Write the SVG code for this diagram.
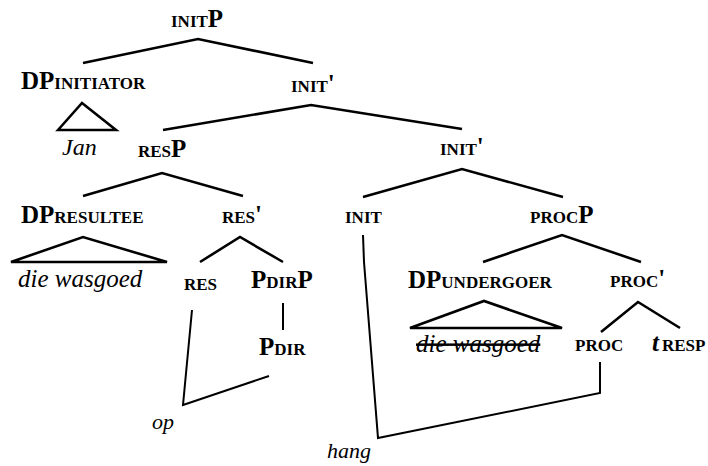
<svg xmlns="http://www.w3.org/2000/svg" width="708" height="466" viewBox="0 0 708 466">
<style>
text{font-family:"Liberation Serif","Times New Roman",serif;fill:#000}
.lab{font-weight:bold;font-size:17px}
.big{font-size:25px}
.it{font-style:italic;font-weight:normal}
.e{fill:none;stroke:#000;stroke-width:2.6;stroke-linejoin:miter}
.m{fill:none;stroke:#000;stroke-width:2}
</style>
<rect width="708" height="466" fill="#fff"/>
<g id="connectors">
<polyline class="e" points="83,63 198,39 313,63"/>
<polyline class="e" points="163,130 311,105 462,129"/>
<polyline class="e" points="83,196 162,173 243,196"/>
<polyline class="e" points="363,197 462,169 563,197"/>
<polyline class="e" points="200,262 240,237 283,262"/>
<polyline class="e" points="483,262 562,235 641,262"/>
<polyline class="e" points="601,332 638,302 680,328"/>
<polygon class="e" points="58,130 82,103 116,130"/>
<polygon class="e" points="11,262 83,237 167,262"/>
<polygon class="e" points="410,328 484,301 562,328"/>
<line class="m" x1="283" y1="303" x2="283" y2="330"/>
<polyline class="m" points="192,310 183,405 269,376"/>
<polyline class="m" points="363,235 364,262 378,438 600,393 600,362"/>
</g>
<g id="initP"><text class="lab" x="171" y="27">INIT<tspan class="big">P</tspan></text></g>
<g id="dp-initiator"><text class="lab" x="21" y="89"><tspan class="big" font-size="26">DP</tspan>INITIATOR</text></g>
<g id="jan"><text class="it" x="62" y="155" font-size="24">Jan</text></g>
<g id="init-bar1"><text class="lab" x="291" y="92">INIT<tspan class="big">'</tspan></text></g>
<g id="resP"><text class="lab" x="138" y="157">RES<tspan class="big">P</tspan></text></g>
<g id="init-bar2"><text class="lab" x="440" y="155">INIT<tspan class="big">'</tspan></text></g>
<g id="dp-resultee"><text class="lab" x="21" y="223"><tspan class="big" font-size="26">DP</tspan>RESULTEE</text></g>
<g id="res-bar"><text class="lab" x="222" y="223">RES<tspan class="big">'</tspan></text></g>
<g id="init-head"><text class="lab" x="345" y="223">INIT</text></g>
<g id="procP"><text class="lab" x="530" y="223">PROC<tspan class="big">P</tspan></text></g>
<g id="die-wasgoed"><text class="it" x="18" y="287" font-size="25">die wasgoed</text></g>
<g id="res-head"><text class="lab" x="184" y="290">RES</text></g>
<g id="pdirP"><text class="lab" x="251" y="288"><tspan class="big">P</tspan>DIR<tspan class="big">P</tspan></text></g>
<g id="dp-undergoer"><text class="lab" x="408" y="288"><tspan class="big" font-size="26">DP</tspan>UNDERGOER</text></g>
<g id="proc-bar"><text class="lab" x="610" y="287">PROC<tspan class="big">'</tspan></text></g>
<g id="die-wasgoed-struck"><text class="it" x="416" y="352" font-size="25" text-decoration="line-through">die wasgoed</text></g>
<g id="proc-head"><text class="lab" x="575" y="351">PROC</text></g>
<g id="t-resp"><text class="lab" x="652" y="351"><tspan class="big" font-style="italic">t</tspan><tspan x="662">RESP</tspan></text></g>
<g id="pdir"><text class="lab" x="259" y="355"><tspan class="big">P</tspan>DIR</text></g>
<g id="op"><text class="it" x="152" y="429" font-size="22">op</text></g>
<g id="hang"><text class="it" x="327" y="458" font-size="22">hang</text></g>
</svg>
